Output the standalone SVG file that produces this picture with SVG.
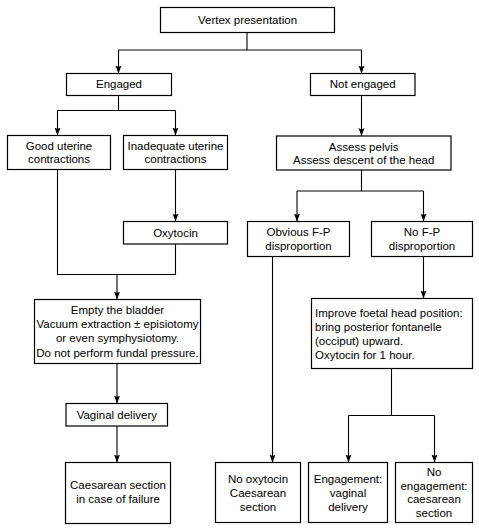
<svg xmlns="http://www.w3.org/2000/svg" width="479" height="531" viewBox="0 0 479 531">
<defs>
<style>
rect{fill:#fff;stroke:#000;stroke-width:1.2}
rect.bg{stroke:none}
text{font-family:"Liberation Sans",Arial,sans-serif;font-size:11.5px;fill:#000;text-anchor:middle}
text.l{text-anchor:start}
#connectors path{fill:none;stroke:#000;stroke-width:1.1}
</style>
<marker id="a" markerUnits="userSpaceOnUse" markerWidth="9" markerHeight="7" viewBox="0 -3.5 9 7" refX="8" refY="0" orient="auto"><path d="M0,-3 L8,0 L0,3 L1.5,0 z" fill="#000"/></marker>
</defs>
<rect class="bg" width="479" height="531"/>
<g id="connectors">
<path d="M247,32.5 V50 M118.5,50 H361.5"/>
<path d="M118.5,50 V73.5" marker-end="url(#a)"/>
<path d="M361.5,50 V73.5" marker-end="url(#a)"/>
<path d="M118.5,95.5 V110.5 M57.5,110.5 H175.5"/>
<path d="M57.5,110.5 V135.5" marker-end="url(#a)"/>
<path d="M175.5,110.5 V135.5" marker-end="url(#a)"/>
<path d="M361.5,95.5 V136" marker-end="url(#a)"/>
<path d="M361.5,170 V191 M297,191 H423.5"/>
<path d="M297,191 V221.5" marker-end="url(#a)"/>
<path d="M423.5,191 V221.5" marker-end="url(#a)"/>
<path d="M175.5,169.5 V221.5" marker-end="url(#a)"/>
<path d="M57.5,169.5 V274.5 H175.5 V244"/>
<path d="M117,274.5 V299.5" marker-end="url(#a)"/>
<path d="M272.5,256.5 V462.5" marker-end="url(#a)"/>
<path d="M423.5,256.5 V298.5" marker-end="url(#a)"/>
<path d="M117,363.5 V403.5" marker-end="url(#a)"/>
<path d="M117,426 V462.5" marker-end="url(#a)"/>
<path d="M391.5,368.5 V415.5 M348.5,415.5 H434.5"/>
<path d="M348.5,415.5 V462.5" marker-end="url(#a)"/>
<path d="M434.5,415.5 V462.5" marker-end="url(#a)"/>
</g>
<g id="vertex"><rect x="160.5" y="7.5" width="174" height="25"/><text x="247.5" y="24">Vertex presentation</text></g>
<g id="engaged"><rect x="66.5" y="73.5" width="105" height="22"/><text x="119" y="88">Engaged</text></g>
<g id="not-engaged"><rect x="310.5" y="73.5" width="104.5" height="22"/><text x="362.7" y="88">Not engaged</text></g>
<g id="good"><rect x="7.5" y="135.5" width="103" height="34"/><text x="59" y="149.5">Good uterine</text><text x="59" y="162.5">contractions</text></g>
<g id="inadequate"><rect x="123.5" y="135.5" width="104" height="34"/><text x="175.5" y="149.5">Inadequate uterine</text><text x="175.5" y="162.5">contractions</text></g>
<g id="assess"><rect x="276.5" y="136" width="174.5" height="34"/><text x="363.7" y="150.5">Assess pelvis</text><text x="363.7" y="163.5">Assess descent of the head</text></g>
<g id="oxytocin"><rect x="123.5" y="221.5" width="104" height="22.5"/><text x="175.5" y="236.5">Oxytocin</text></g>
<g id="obvious"><rect x="247.5" y="221.5" width="102" height="35"/><text x="298.5" y="236">Obvious F-P</text><text x="298.5" y="249.5">disproportion</text></g>
<g id="no-fp"><rect x="371.5" y="221.5" width="101" height="35"/><text x="422" y="236">No F-P</text><text x="422" y="249.5">disproportion</text></g>
<g id="empty"><rect x="34.5" y="299.5" width="166" height="64"/><text x="117.5" y="314">Empty the bladder</text><text x="117.5" y="328">Vacuum extraction ± episiotomy</text><text x="117.5" y="342">or even symphysiotomy.</text><text x="117.5" y="356.5">Do not perform fundal pressure.</text></g>
<g id="improve"><rect x="311.5" y="298.5" width="161" height="70"/><text class="l" x="315" y="316.5">Improve foetal head position:</text><text class="l" x="315" y="330.7">bring posterior fontanelle</text><text class="l" x="315" y="345">(occiput) upward.</text><text class="l" x="315" y="359">Oxytocin for 1 hour.</text></g>
<g id="vaginal"><rect x="66" y="403.5" width="101.5" height="22.5"/><text x="116.8" y="418.5">Vaginal delivery</text></g>
<g id="caesarean-failure"><rect x="65.5" y="462.5" width="105" height="61"/><text x="118" y="489">Caesarean section</text><text x="118" y="502.5">in case of failure</text></g>
<g id="no-oxytocin"><rect x="215.5" y="462.5" width="85" height="60"/><text x="258" y="483">No oxytocin</text><text x="258" y="497">Caesarean</text><text x="258" y="511">section</text></g>
<g id="engagement"><rect x="308.5" y="462.5" width="79" height="60"/><text x="348" y="483">Engagement:</text><text x="348" y="497">vaginal</text><text x="348" y="511">delivery</text></g>
<g id="no-engagement"><rect x="395.5" y="462.5" width="77" height="60"/><text x="434" y="476">No</text><text x="434" y="489.5">engagement:</text><text x="434" y="503">caesarean</text><text x="434" y="517">section</text></g>
</svg>
